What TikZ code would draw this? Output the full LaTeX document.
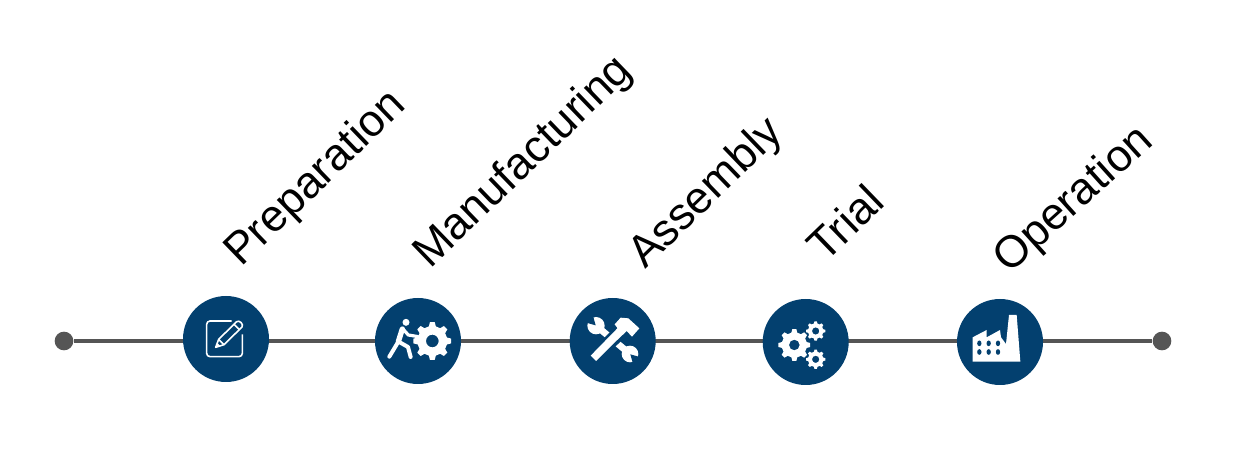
\documentclass[tikz,border=0pt]{standalone}
\usepackage{fontspec}
\setmainfont{Liberation Sans}
\definecolor{navy}{HTML}{03406F}
\definecolor{linegray}{HTML}{555555}
\newcommand{\gearicon}[6]{% x y outer inner hole teeth
  \fill[white,even odd rule]
    plot[samples at={0,...,\numexpr #6*4-1\relax},variable=\k]
      ({#1+((mod(\k,4)==1||mod(\k,4)==2)?#3:#4)*cos((floor(\k/4)+(mod(\k,4)-1.5)*((mod(\k,4)==1||mod(\k,4)==2)?0.32:0.2))*360/#6)},
       {#2+((mod(\k,4)==1||mod(\k,4)==2)?#3:#4)*sin((floor(\k/4)+(mod(\k,4)-1.5)*((mod(\k,4)==1||mod(\k,4)==2)?0.32:0.2))*360/#6)}) -- cycle
    (#1,#2) circle (#5);}
\tikzset{
  x=0.75pt,y=-0.75pt,
  stage/.style={circle,fill=navy,minimum size=64.5pt,inner sep=0pt},
  enddot/.style={circle,fill=linegray,minimum size=14pt,inner sep=0pt},
  axis/.style={draw=linegray,line width=2.6pt},
  steplabel/.style={rotate=44,anchor=base west,font=\fontsize{33.5}{40}\selectfont,text=black,inner sep=0pt},
}
\begin{document}
\begin{tikzpicture}
\useasboundingbox (0,0) rectangle (1249,459);
\fill[white] (0,0) rectangle (1249,459);
\node[enddot] (start) at (64,341) {};
\node[enddot] (end) at (1162,341) {};
\draw[axis] (start) -- (end);
\node[stage] (prep) at (226,339) {};
\node[stage] (manu) at (418,341) {};
\node[stage] (asse) at (612.7,341) {};
\node[stage] (tria) at (805.7,342) {};
\node[stage] (oper) at (1000,342) {};
\node[steplabel] (l1) at (241,268) {Preparation};
\node[steplabel] (l2) at (430,270) {Manufacturing};
\node[steplabel] (l3) at (645,270) {Assembly};
\node[steplabel] (l4) at (825,264) {Trial};
\node[steplabel,rotate=-2] (l5) at (1009,275) {Operation};
% icon 1
\begin{scope}[shift={(170,285)},scale=1/3]
\draw[white,line width=1.2pt,line join=round,rounded corners=2.5pt] (185,108) -- (110,108) -- (110,215) -- (217,215) -- (217,148);
\draw[white,line width=1.2pt,line join=round] (137,187) -- (146,163) -- (200,110) .. controls (208,104) and (222,118) .. (216,126) -- (162,179) -- cycle;
\draw[white,line width=1.2pt] (146,163) -- (162,179) (192,118) -- (208,134);
\fill[white] (137,187) -- (141,173) -- (151,183) -- cycle;
\end{scope}
% icon 2
\begin{scope}[shift={(170,285)},scale=1/3]
\fill[white] (708,112) circle (10.5);
\draw[white,line width=4pt,line cap=round,line join=round] (697,132) -- (685,170);
\draw[white,line width=3pt,line cap=round,line join=round] (685,170) -- (658,215);
\draw[white,line width=3pt,line cap=round,line join=round] (686,170) -- (714,186) -- (722,216);
\draw[white,line width=2.4pt,line cap=round,line join=round] (697,130) -- (715,150) -- (745,155);
\gearicon{787}{168}{57}{45}{19}{8}
\end{scope}
% icon 3
\begin{scope}[shift={(560,285)},scale=1/3]
\draw[white,line width=5pt] (108,122) -- (210,207);
\fill[white] (108,122) circle (26);
\fill[navy] (107,121) -- (75,112) -- (98,89) -- cycle;
\fill[white] (210,207) circle (25);
\fill[navy] (211,208) -- (243,217) -- (220,240) -- cycle;
\draw[navy,line width=10.5pt] (100,220) -- (190,132);
\fill[white] (92,212) -- (108,228) -- (195,142) -- (178,124) -- cycle;
\fill[white] (164,118) -- (182,98) -- (205,100) -- (238,130) -- (216,155) -- (200,138) -- (188,150) -- cycle;
\end{scope}
% icon 4
\begin{scope}[shift={(560,285)},scale=1/3]
\gearicon{703}{180}{48}{38}{16}{8}
\gearicon{767}{138}{29}{23}{11}{8}
\gearicon{767}{223}{29}{23}{11}{8}
\end{scope}
% icon 5
\begin{scope}[shift={(945,290)},scale=1/3]
\fill[white] (83,215) -- (83,142) -- (125,120) -- (125,142) -- (165,120) -- (168,142) -- (183,162) -- (192,75) -- (215,75) -- (226,215) -- cycle;
\foreach \wx in {103,131,159} \foreach \wy in {160,186}
  \fill[navy] (\wx,\wy) ellipse (6.5 and 8.5);
\end{scope}
\end{tikzpicture}
\end{document}
